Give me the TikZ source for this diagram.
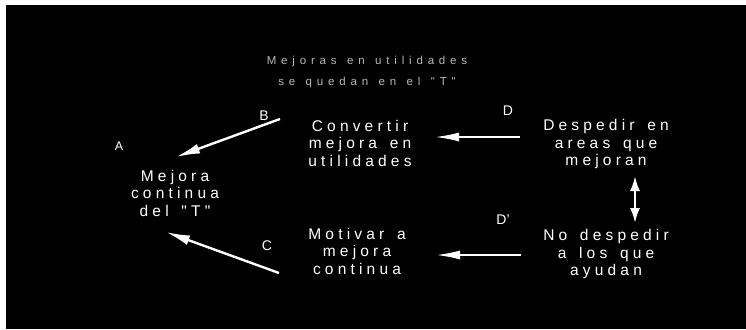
\documentclass[tikz,border=0pt]{standalone}
\usepackage{fontspec}
\setmainfont{Liberation Sans}
\newfontfamily\spacedfont[LetterSpace=27,WordSpace=1.5]{Liberation Sans}
\newfontfamily\titlefont[LetterSpace=42,WordSpace=1.3]{Liberation Sans}
\usetikzlibrary{arrows.meta}
\begin{document}
\begin{tikzpicture}[x=1pt,y=-1pt,
  txt/.style={text=white,align=center,font=\spacedfont\fontsize{15.5}{17.5}\selectfont,inner sep=0pt},
  lbl/.style={text=white,font=\fontsize{14}{16}\selectfont,inner sep=0pt},
  ttl/.style={text=white!72!black,align=center,font=\titlefont\fontsize{11.5}{21}\selectfont,inner sep=0pt},
  conn/.style={draw=white,line width=2.4pt,-{Latex[length=24pt,width=10pt]}},
  hconn/.style={draw=white,line width=2pt,-{Latex[length=24pt,width=9pt]}},
  dconn/.style={draw=white,line width=2.2pt,{Latex[length=15pt,width=10pt]}-{Latex[length=15pt,width=10pt]}}]
\useasboundingbox (0,0) rectangle (746,329);
\fill[white] (0,0) rectangle (746,329);
\fill[black] (6,5) rectangle (746,329);
\node[ttl] (title) at (367,72) {Mejoras en utilidades\\se quedan en el "T"};
\node[lbl,font=\fontsize{12.5}{14}\selectfont] (A) at (119,146) {A};
\node[lbl] (B) at (264,116) {B};
\node[lbl] (C) at (267,246) {C};
\node[lbl] (D) at (508,111) {D};
\node[lbl] (Dp) at (503,220) {D'};
\node[txt] (mejora) at (175,193) {Mejora\\continua\\del "T"};
\node[txt] (conv) at (360,143) {Convertir\\mejora en\\utilidades};
\node[txt] (motiv) at (357,251) {Motivar a\\mejora\\continua};
\node[txt] (desp) at (606,144) {Despedir en\\areas que\\mejoran};
\node[txt] (nodesp) at (606,254) {No despedir\\a los que\\ayudan};
\coordinate (bS) at (280,119);
\coordinate (bE) at (176,157);
\coordinate (cS) at (279,273);
\coordinate (cE) at (166,232);
\coordinate (dS) at (520,137);
\coordinate (dE) at (435,137);
\coordinate (dpS) at (521,255);
\coordinate (dpE) at (436,255);
\coordinate (uT) at (635,176);
\coordinate (uB) at (635,223);
\draw[conn] (bS) -- (bE);
\draw[conn] (cS) -- (cE);
\draw[hconn] (dS) -- (dE);
\draw[hconn] (dpS) -- (dpE);
\draw[dconn] (uT) -- (uB);
\end{tikzpicture}
\end{document}
